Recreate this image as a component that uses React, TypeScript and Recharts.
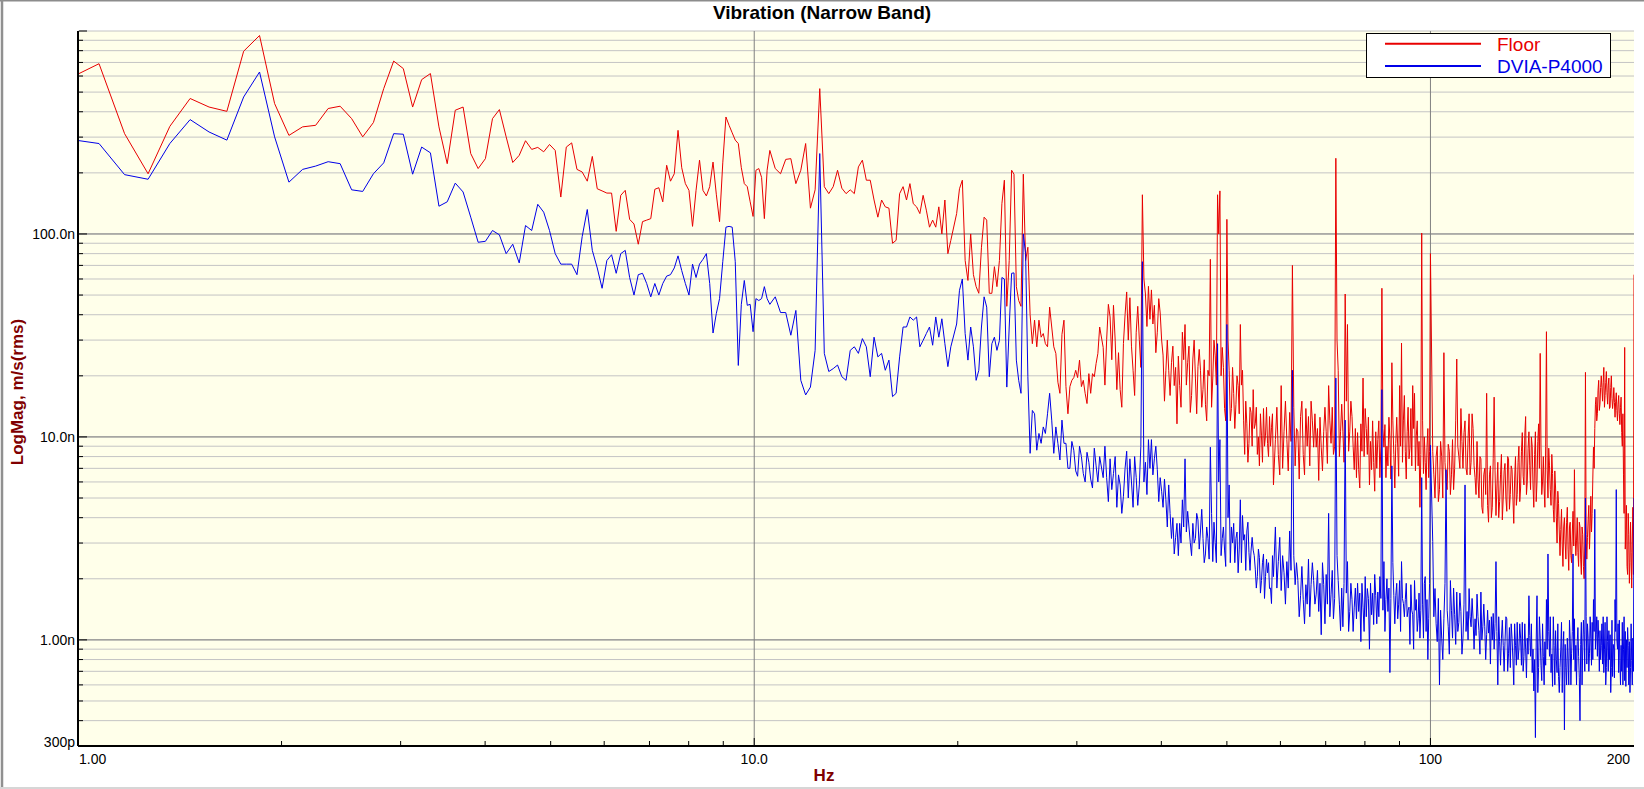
import React from "react";
import {
  LineChart,
  Line,
  XAxis,
  YAxis,
  CartesianGrid,
  ReferenceLine,
} from "recharts";

// FFT line width: 2048 lines up to 200 Hz
const DF = 200 / 2048;

// Spectra in nm/s(rms). Each block: first FFT line, line step, values.
const blockA = { first: 10, step: 1 };
const floorA = [
  590, 690, 312, 198, 339, 465, 422, 402, 795, 950,
  439, 306, 337, 343, 415, 426, 370, 301, 354, 520,
  711, 653, 422, 576, 617, 337, 222, 407, 422, 249,
  210, 235, 370, 410, 301, 225, 244, 288, 261, 267,
  254, 276, 258, 152, 268, 281, 208, 202, 182, 241,
  167, 163, 159, 159, 103, 155, 164, 118, 112, 89,
  115, 117, 119, 166, 169, 144, 218, 182, 198, 324,
  212, 177, 164, 109, 164, 231, 164, 154, 171, 226,
  157, 115, 224, 377, 343, 315, 290, 279, 212, 177,
  171, 144, 122, 206, 210, 190, 119, 206, 258,
];
const dviaA = [
  292, 279, 196, 186, 279, 366, 318, 290, 473, 628,
  301, 180, 208, 216, 227, 222, 165, 162, 198, 224,
  312, 310, 197, 268, 251, 137, 144, 178, 161, 121,
  91, 92, 104, 99, 80, 89, 72, 110, 104, 140,
  128, 104, 80, 71, 71, 71, 63, 97, 132, 83,
  68, 54, 74, 79, 64, 80, 83, 61, 50, 63,
  64, 57, 49, 57, 50, 57, 62, 63, 68, 78,
  66, 57, 50, 71, 61, 71, 75, 80, 57, 32.5,
  40.5, 48, 73, 108, 109, 108, 73, 22.5, 45, 59,
  44.5, 45, 33, 48, 47, 48, 55, 48, 45,
];

const blockB = { first: 110, step: 2 };
const floorB = [
  210, 198, 233, 235, 177, 206, 279, 134, 165, 520,
  171, 158, 171, 206, 168, 158, 165, 158, 214, 231,
  184, 184, 147, 121, 147, 136, 134, 90, 93, 158,
  171, 147, 177, 141, 136, 126, 155, 131, 108, 117,
  108, 136, 100, 147, 80, 93,
];
const dviaB = [
  49, 41, 41, 31.7, 42, 19, 16.1, 17.6, 26.7, 249,
  25.8, 21, 21.7, 22.6, 19.8, 19, 26.7, 27.8, 25.8, 30.5,
  27.8, 19.8, 31, 24.8, 25.8, 21.3, 23.9, 15.8, 16.4, 24.8,
  34.8, 34.8, 39, 37.6, 39, 27.8, 29.9, 32.3, 34.8, 28.3,
  39, 31, 38.2, 28.8, 22.2, 27.8,
];

const blockC = { first: 204, step: 4 };
const floorC = [
  126, 184, 59, 63, 51, 121, 51, 69, 74, 184,
  74, 197, 47, 197, 86, 28.8, 27.8, 31, 28.8, 43.6,
  27.8, 18.6, 32, 17.7, 17.7, 19.6, 19.6, 17.7, 16.4, 20.5,
  20.5, 23, 34.8,
];
const dviaC = [
  36, 60, 23.9, 27.8, 21.3, 49, 19.8, 31, 29.9, 60,
  34.8, 64.3, 19, 100, 19.8, 13.5, 8.6, 9.3, 10.4, 16.4,
  8.3, 9.3, 12.1, 9.3, 7.0, 8.6, 6.4, 8.0, 6.0, 7.5,
  5.6, 7.2, 8.0,
];
const blockC2 = { first: 206, step: 4 };
const floorC2 = [
  167, 74, 100, 55, 86, 117, 51, 55, 141, 44,
  206, 55, 44, 74, 40, 37.6, 37.6, 32.3, 27.8, 34.8,
  25.8, 16.4, 37.6, 13, 19, 21.3, 23.9, 19, 14.6, 16.4,
  19.8, 25.8,
];
const dviaC2 = [
  52.8, 32.3, 34.8, 19, 34.8, 43.6, 28.8, 26.7, 61, 17.6,
  64, 23.9, 16.4, 80, 8.3, 13, 10.4, 11.2, 13, 12.1,
  11.2, 7.7, 9.3, 7.0, 9.5, 6.8, 9.0, 6.6, 8.4, 6.2,
  8.8, 6.0,
];

const blockD = { first: 336, step: 4 };
const floorD = [
  27.6, 30.1, 39, 44.5, 17.1, 17.1, 28.8, 51.8, 48.5, 21.3,
  32.8, 30.1, 156, 50.6, 55.2, 53, 44.5, 32.8, 40.8, 25.3,
  21.3, 21.3, 23.2, 17.9, 11.6, 17.9, 32.8, 35.8, 23.2, 13.2,
  24.2, 19.5, 22.2, 21.3, 17.1, 14.4, 21.3, 75, 19.5, 25.3,
  156, 163, 27.6, 13.8, 118, 21.3, 13.8, 16.4, 14.4, 17.9,
  35.8, 21.3, 8.2, 11.6, 9.3, 13.2, 17.1, 11.6, 8.2, 7.2,
  10.2, 13.8, 10.2, 9.3, 12.6, 11.1, 5.8,
];
const dviaD = [
  6.3, 6.3, 7.8, 6.6, 4.5, 5.8, 5.1, 8.5, 7.8, 4.5,
  6.3, 5.8, 73, 7.5, 9.7, 9.7, 7.8, 6.9, 6.3, 4.5,
  4.9, 5.8, 3.16, 2.65, 3.75, 3.75, 4.9, 7.8, 4.3, 3.02,
  3.75, 3.16, 3.9, 3.44, 3.16, 2.65, 3.16, 8.9, 2.43, 3.02,
  28.8, 9.7, 3.16, 2.77, 35.8, 5.8, 3.6, 3.75, 3.16, 2.14,
  4.9, 4.1, 3.3, 3.44, 2.7, 2.77, 2.77, 2.23, 2.05, 2.54,
  1.96, 2.65, 2.05, 2.14, 1.79, 1.51, 2.05,
];
const blockD2 = { first: 338, step: 4 };
const floorD2 = [
  18, 45, 24, 30, 26, 14, 40, 30, 28, 16,
  44, 22, 60, 35, 38, 36, 26, 48, 30, 15,
  30, 16, 28, 22, 25, 14, 24, 18, 28, 16,
  30, 13, 27, 14, 24, 12, 20, 14, 30, 18,
  100, 20, 22, 12, 30, 12, 22, 11, 20, 13,
  18, 12, 15, 7.5, 14, 9, 11, 14, 10, 13,
  7.5, 9, 14, 8, 9, 13,
];
const dviaD2 = [
  9.0, 4.8, 5.5, 8.0, 6.5, 4.2, 7.0, 5.0, 6.0, 8.0,
  4.6, 9.0, 6.0, 5.2, 7.0, 6.5, 9.0, 4.8, 5.4, 6.2,
  3.6, 4.2, 4.0, 3.2, 2.6, 3.0, 3.6, 3.4, 3.6, 2.6,
  3.0, 4.2, 2.8, 4.4, 2.4, 3.6, 2.5, 4.2, 3.8, 2.4,
  6.0, 2.6, 3.6, 2.3, 4.0, 2.4, 3.0, 2.4, 3.4, 2.8,
  2.4, 3.1, 2.2, 3.8, 2.2, 3.2, 2.6, 1.8, 2.8, 1.7,
  2.4, 1.6, 2.5, 2.4, 1.8, 2.6,
];

const blockE = { first: 604, step: 6 };
const floorE = [
  9.7, 8.2, 17.9, 10.6, 9.7, 13.2, 70, 7.2, 10.6, 12.6,
  8.2, 13.8, 12.6, 15.0, 8.9, 8.9, 6.1, 8.9, 10.6, 10.6,
  17.9, 9.3, 8.2, 236, 21.3, 10.6, 10.6, 50.6, 35.8, 10.6,
  12.6, 6.9, 6.3, 6.9, 11.6, 19.5, 13.8, 8.2, 5.8, 6.9,
  7.5, 10.6, 9.7, 6.3, 54, 8.9, 6.3, 7.2, 9.7, 23.2,
  8.2, 9.3, 8.9, 17.9, 29, 12.1, 8.5, 10.6, 7.8, 13.8,
  17.9, 16.4, 10.2, 7.2, 4.5, 101, 6.6, 7.5, 8.9, 6.3,
  80,
];
const dviaE = [
  3.6, 2.43, 1.75, 2.14, 2.43, 3.44, 21.3, 1.87, 1.96, 1.65,
  1.58, 1.87, 2.5, 1.87, 1.96, 1.68, 1.38, 1.06, 1.87, 2.1,
  4.2, 1.68, 1.27, 19.5, 1.96, 1.11, 1.16, 12.1, 2.43, 1.38,
  1.58, 1.45, 1.27, 1.38, 0.98, 1.45, 2.05, 1.79, 0.9, 1.33,
  1.19, 1.65, 1.72, 2.05, 17.1, 2.43, 1.58, 1.38, 0.69, 7.2,
  1.65, 1.65, 1.27, 1.96, 2.43, 1.51, 1.58, 1.3, 1.45, 1.87,
  1.33, 1.96, 1.58, 1.27, 1.02, 6.3, 1.02, 2.05, 1.58, 1.27,
  9.1,
];
const blockE2 = { first: 607, step: 6 };
const floorE2 = [
  14, 6.5, 7.0, 15, 6.8, 9.5, 14, 11, 6.2, 15,
  6.5, 9.0, 7.2, 12, 13, 11, 12.5, 6.8, 14, 7.4,
  12, 14, 9.0, 30, 8.0, 14.5, 7.5, 15, 8.5, 15,
  9.0, 11, 10.5, 5.6, 8.5, 8.0, 11, 12.5, 9.5, 12,
  5.4, 7.0, 12, 9.0, 11, 11.5, 9.0, 12.5, 6.2, 12,
  5.6, 12.5, 6.4, 9.0, 7.5, 16, 6.2, 14, 8.8, 7.2,
  11, 6.8, 12, 9.5, 8.2, 12, 10, 5.5, 11, 8.5,
];
const dviaE2 = [
  1.8, 3.2, 2.6, 1.5, 1.8, 2.2, 2.6, 2.4, 1.3, 2.3,
  1.2, 1.5, 1.3, 2.4, 1.5, 2.2, 1.9, 2.4, 1.2, 1.5,
  1.3, 2.2, 1.6, 2.6, 1.5, 1.8, 1.9, 1.7, 1.1, 1.9,
  1.1, 1.8, 1.9, 1.7, 1.9, 1.1, 1.3, 1.6, 1.9, 1.7,
  2.1, 1.2, 1.3, 1.6, 1.4, 1.1, 2.0, 1.8, 1.6, 2.4,
  1.2, 1.9, 1.5, 1.1, 1.6, 1.3, 1.9, 1.4, 0.95, 1.4,
  0.9, 1.4, 1.1, 1.7, 1.4, 1.5, 1.9, 1.1, 0.8, 1.9,
];

const blockF = { first: 1032, step: 8 };
const floorF = [
  8.5, 5.0, 9.0, 5.5, 8.0, 26, 6.0, 9.2, 5.2, 9.7,
  7.0, 24.2, 8.0, 13.8, 7.0, 12.0, 6.5, 13.0, 7.5, 11.0,
  6.3, 9.5, 5.0, 7.8, 4.2, 7.0, 16.4, 3.8, 7.2, 4.5,
  15.7, 4.1, 7.5, 4.8, 8.2, 5.0, 7.4, 4.3, 7.8, 5.2,
  6.9, 3.75, 8.0, 5.2, 9.0, 5.6, 10.5, 5.8, 12.6, 6.0,
  10.6, 5.5, 9.0, 4.5, 10.6, 6.0, 11.6, 25.8, 5.2, 8.0,
  4.5, 33, 5.0, 7.2, 4.6, 6.6, 3.8, 5.6, 3.0, 4.7,
  2.6, 4.4, 2.3, 4.0, 2.5, 4.5, 2.2, 3.8, 2.4, 4.3,
  6.9, 2.6, 4.0, 2.3, 3.6, 2.1, 3.3, 2.0, 20.8, 2.5,
  3.9, 2.8, 5.1, 4.2, 8.9, 11.0, 15.7, 13.0, 19.0, 14.5,
  20.0, 15.0, 22.0, 16.0, 21.0, 14.5, 19.5, 14.0, 20, 13.8,
  17.5, 12.5, 16.5, 12.0, 16.0, 11.5, 15.7, 9.0, 6.5, 27.6,
  3.5, 2.3, 4.2, 1.9, 3.8, 1.8, 4.5, 63,
];
const dviaF = [
  3.05, 1.79, 0.98, 0.6, 1.02, 1.27, 6.9, 1.16, 1.96, 1.02,
  1.33, 1.72, 1.22, 1.38, 1.02, 5.8, 1.38, 1.79, 1.16, 1.27,
  1.27, 1.68, 1.11, 1.72, 1.16, 1.16, 1.06, 1.08, 0.76, 1.0,
  0.9, 2.43, 0.6, 0.98, 1.02, 0.94, 0.98, 1.27, 0.86, 0.73,
  1.02, 0.6, 0.94, 1.22, 0.9, 1.02, 1.22, 0.83, 0.9, 1.02,
  1.65, 0.83, 0.69, 0.56, 0.33, 1.65, 0.73, 1.02, 0.63, 0.83,
  0.98, 1.58, 2.65, 0.83, 0.69, 0.59, 0.94, 1.11, 0.69, 0.66,
  0.73, 1.22, 0.9, 0.36, 0.73, 1.02, 0.6, 1.02, 0.86, 2.65,
  1.27, 0.94, 0.98, 0.83, 0.4, 1.22, 0.9, 1.06, 5.0, 0.76,
  1.02, 0.86, 1.02, 1.22, 1.58, 4.4, 1.06, 0.83, 1.02, 1.11,
  0.94, 0.76, 0.69, 1.22, 0.73, 0.98, 1.11, 1.06, 0.73, 0.66,
  0.9, 1.58, 5.5, 0.9, 0.69, 0.79, 0.94, 1.22, 0.9, 0.63,
  0.59, 0.73, 0.94, 0.98, 0.73, 0.79, 1.02, 5.0,
];
const blockF2 = { first: 1036, step: 8 };
const floorF2 = [
  6.5, 8.0, 4.8, 9.5, 5.0, 7.5, 5.5, 8.5, 6.5, 5.5,
  12, 9.0, 7.0, 9.5, 10.5, 7.0, 9.8, 6.5, 13, 7.2,
  5.2, 6.2, 8.0, 4.5, 6.5, 5.2, 4.6, 6.5, 4.0, 7.8,
  6.8, 5.6, 4.0, 6.5, 3.9, 6.8, 5.0, 8.0, 4.4, 7.2,
  5.0, 6.2, 4.6, 7.5, 4.8, 8.5, 6.4, 10.2, 5.2, 8.8,
  7.2, 10.0, 5.8, 8.2, 4.8, 9.5, 7.0, 9.0, 6.0, 5.6,
  9.0, 6.8, 8.8, 5.5, 8.2, 4.4, 6.8, 4.0, 5.4, 3.4,
  3.5, 2.9, 3.6, 3.0, 3.8, 2.8, 3.6, 2.6, 3.4, 2.9,
  3.4, 3.1, 2.7, 3.8, 2.5, 3.6, 2.3, 3.0, 3.3, 3.2,
  4.6, 3.6, 3.4, 6.2, 7.0, 14.5, 12.0, 17.0, 13.5, 17.5,
  17.5, 18.5, 14.0, 18.5, 16.5, 18.0, 13.8, 17.5, 15.5, 15.2,
  14.8, 15.0, 13.5, 14.5, 13.0, 14.0, 10.5, 13.0, 4.2, 2.8,
  4.6, 2.1, 3.3, 2.4, 2.7, 3.0, 2.1,
];
const dviaF2 = [
  1.3, 1.2, 1.6, 1.4, 0.8, 1.9, 1.4, 0.85, 1.4, 1.8,
  0.95, 1.1, 1.7, 0.85, 1.5, 1.1, 1.0, 1.3, 1.6, 0.9,
  1.05, 1.3, 0.85, 1.0, 1.5, 0.8, 1.4, 1.25, 1.3, 1.35,
  1.2, 1.1, 1.3, 0.75, 1.25, 0.7, 1.3, 0.7, 1.15, 1.2,
  0.8, 1.2, 0.75, 0.8, 1.2, 0.75, 0.7, 1.2, 0.65, 0.85,
  1.05, 1.2, 0.9, 0.8, 1.0, 0.55, 1.3, 0.75, 1.2, 0.6,
  0.75, 0.9, 1.1, 1.3, 0.85, 1.3, 0.6, 0.8, 1.2, 0.55,
  0.9, 0.55, 1.1, 0.95, 0.6, 0.8, 1.25, 0.6, 1.1, 0.8,
  0.7, 0.6, 1.15, 0.65, 0.95, 0.6, 1.25, 0.7, 1.3, 1.2,
  0.7, 1.3, 0.75, 0.8, 1.1, 0.9, 1.3, 1.25, 0.7, 0.8,
  1.2, 1.3, 0.9, 0.6, 1.3, 0.7, 0.8, 0.55, 1.25, 0.95,
  0.65, 1.1, 1.0, 1.2, 1.25, 0.6, 0.7, 0.6, 1.3, 1.1,
  1.0, 1.15, 0.6, 0.55, 1.2, 0.6, 0.7,
];

const blocks = [
  { ...blockA, floor: floorA, dvia: dviaA },
  { ...blockB, floor: floorB, dvia: dviaB },
  { ...blockC, floor: floorC, dvia: dviaC },
  { ...blockC2, floor: floorC2, dvia: dviaC2 },
  { ...blockD, floor: floorD, dvia: dviaD },
  { ...blockD2, floor: floorD2, dvia: dviaD2 },
  { ...blockE, floor: floorE, dvia: dviaE },
  { ...blockE2, floor: floorE2, dvia: dviaE2 },
  { ...blockF, floor: floorF, dvia: dviaF },
  { ...blockF2, floor: floorF2, dvia: dviaF2 },
];

const rows = blocks
  .flatMap((b) =>
    b.floor.map((v, i) => ({
      line: b.first + i * b.step,
      floor: v * 1e-9,
      dvia: b.dvia[i] * 1e-9,
    }))
  )
  .sort((a, b) => a.line - b.line)
  .map((r) => ({ f: r.line * DF, floor: r.floor, dvia: r.dvia }));

const xTicks = [1, 2, 3, 4, 5, 6, 7, 8, 9, 10, 20, 30, 40, 50, 60, 70, 80, 90, 100, 200];
const xLabels: Record<string, string> = { 1: "1.00", 10: "10.0", 100: "100", 200: "200" };

const yTicks = [
  3e-10, 4e-10, 5e-10, 6e-10, 7e-10, 8e-10, 9e-10,
  1e-9, 2e-9, 3e-9, 4e-9, 5e-9, 6e-9, 7e-9, 8e-9, 9e-9,
  1e-8, 2e-8, 3e-8, 4e-8, 5e-8, 6e-8, 7e-8, 8e-8, 9e-8,
  1e-7, 2e-7, 3e-7, 4e-7, 5e-7, 6e-7, 7e-7, 8e-7, 9e-7,
  1e-6,
];
const yMajor = [1e-9, 1e-8, 1e-7, 1e-6];
const yLabels: Record<string, string> = {
  "1e-6": "1.00µ",
  "1e-7": "100.0n",
  "1e-8": "10.0n",
  "1e-9": "1.00n",
  "3e-10": "300p",
};

const FONT = "'Liberation Sans', Arial, sans-serif";
const RED = "#E80000";
const BLUE = "#0000E8";
const AXIS_RED = "#800000";

const XTick = (props: any) => {
  const { x, y, payload } = props;
  const v = payload.value;
  const label = xLabels[String(v)];
  const major = v === 10 || v === 100;
  const mark = v !== 1 && v !== 200;
  const anchor = v === 1 ? "start" : v === 200 ? "end" : "middle";
  const tx = v === 1 ? x + 1 : v === 200 ? x - 4 : x;
  return (
    <g>
      {mark && (
        <line x1={x} x2={x} y1={y - 1} y2={y - (major ? 8 : 5)} stroke="#000" />
      )}
      {label && (
        <text x={tx} y={y + 17.5} textAnchor={anchor} fontSize={14} fontFamily={FONT} fill="#000">
          {label}
        </text>
      )}
    </g>
  );
};

const YTick = (props: any) => {
  const { x, y, payload } = props;
  const v = payload.value;
  const major = yMajor.includes(v);
  const label = yLabels[String(v)];
  const dy = v === 1e-6 ? 12 : v === 3e-10 ? 1 : 5;
  return (
    <g>
      <line x1={x + 1} x2={x + (major ? 9 : 5)} y1={y} y2={y} stroke="#000" />
      {label && (
        <text x={x - 3} y={y + dy} textAnchor="end" fontSize={14} fontFamily={FONT} fill="#000">
          {label}
        </text>
      )}
    </g>
  );
};

export default function App() {
  return (
    <div
      style={{
        position: "fixed",
        left: 0,
        top: 0,
        width: 1644,
        height: 789,
        background: "#fff",
        fontFamily: FONT,
      }}
    >
      <LineChart
        width={1644}
        height={789}
        data={rows}
        margin={{ top: 31, right: 10, bottom: 0, left: 0 }}
      >
        <CartesianGrid vertical={false} stroke="#c4c4c4" fill="#FFFFEA" fillOpacity={1} />
        {[1e-9, 1e-8, 1e-7].map((v) => (
          <ReferenceLine key={v} y={v} stroke="#808080" />
        ))}
        {[10, 100].map((v) => (
          <ReferenceLine key={v} x={v} stroke="#808080" />
        ))}
        <XAxis
          dataKey="f"
          type="number"
          scale="log"
          domain={[1, 200]}
          allowDataOverflow
          ticks={xTicks}
          interval={0}
          tick={XTick}
          tickLine={false}
          tickSize={0}
          tickMargin={0}
          height={43}
          axisLine={{ stroke: "#000", strokeWidth: 2 }}
        />
        <YAxis
          type="number"
          scale="log"
          domain={[3e-10, 1e-6]}
          allowDataOverflow
          ticks={yTicks}
          interval={0}
          tick={YTick}
          tickLine={false}
          tickSize={0}
          tickMargin={0}
          width={78}
          axisLine={{ stroke: "#000", strokeWidth: 2 }}
        />
        <Line
          type="linear"
          dataKey="floor"
          stroke={RED}
          strokeWidth={1}
          dot={false}
          activeDot={false}
          isAnimationActive={false}
        />
        <Line
          type="linear"
          dataKey="dvia"
          stroke={BLUE}
          strokeWidth={1}
          dot={false}
          activeDot={false}
          isAnimationActive={false}
        />
      </LineChart>

      <svg
        width={1644}
        height={789}
        style={{ position: "absolute", left: 0, top: 0, pointerEvents: "none" }}
      >
        <line x1={0} y1={0.75} x2={1644} y2={0.75} stroke="#8c8c8c" strokeWidth={1.5} />
        <line x1={2} y1={0} x2={2} y2={789} stroke="#909090" strokeWidth={2.5} />
        <line x1={0} y1={788} x2={1644} y2={788} stroke="#d6d6d6" strokeWidth={2} />

        <text x={822} y={19} textAnchor="middle" fontSize={19} fontWeight="bold" fontFamily={FONT} fill="#000">
          Vibration (Narrow Band)
        </text>
        <text
          transform="translate(22.5,392) rotate(-90)"
          textAnchor="middle"
          fontSize={17}
          fontWeight="bold"
          fontFamily={FONT}
          fill={AXIS_RED}
        >
          LogMag, m/s(rms)
        </text>
        <text x={824} y={781} textAnchor="middle" fontSize={17} fontWeight="bold" fontFamily={FONT} fill={AXIS_RED}>
          Hz
        </text>

        <rect x={1366.5} y={33.5} width={244} height={44} fill="#fff" stroke="#000" />
        <line x1={1385} x2={1481} y1={43.7} y2={43.7} stroke={RED} strokeWidth={2} />
        <text x={1497} y={50.7} fontSize={19} fontFamily={FONT} fill={RED}>
          Floor
        </text>
        <line x1={1385} x2={1481} y1={66} y2={66} stroke={BLUE} strokeWidth={2} />
        <text x={1497} y={72.7} fontSize={19} fontFamily={FONT} fill={BLUE}>
          DVIA-P4000
        </text>
      </svg>
    </div>
  );
}
